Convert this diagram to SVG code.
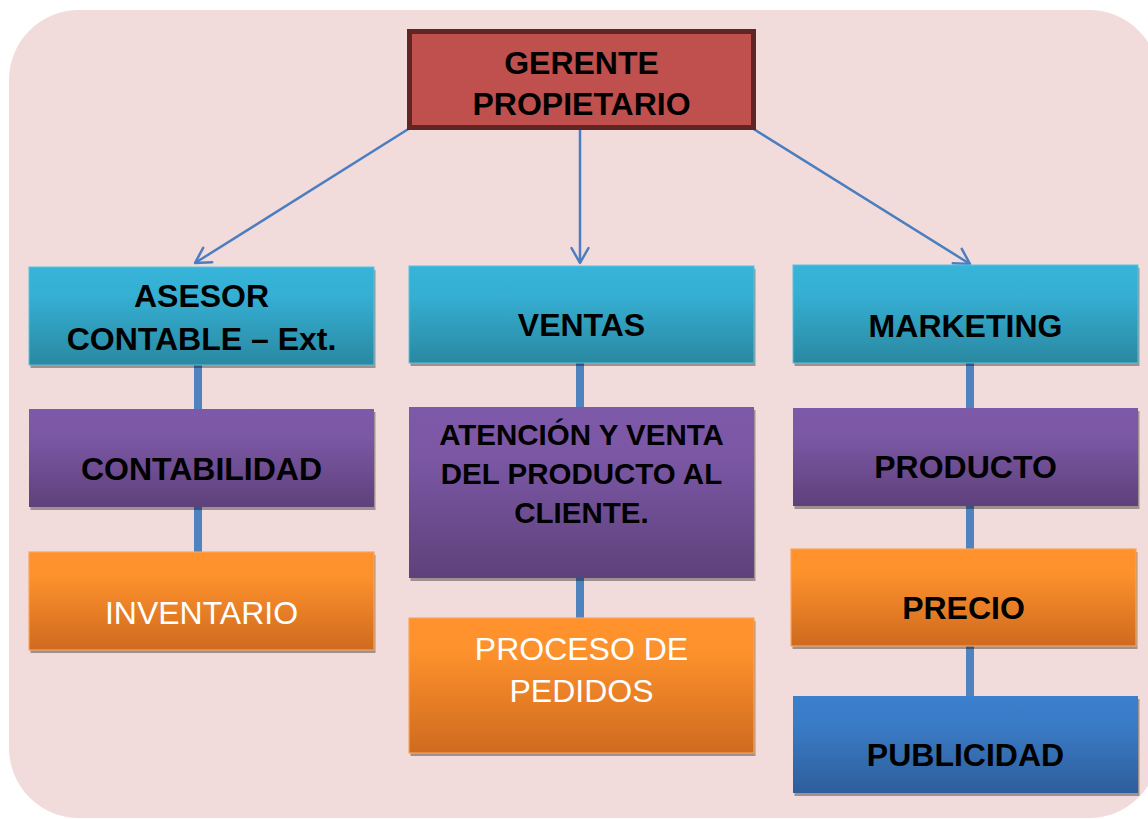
<svg xmlns="http://www.w3.org/2000/svg" width="1148" height="819" viewBox="0 0 1148 819">
<defs>
<linearGradient id="gCyan" x1="0" y1="0" x2="0" y2="1">
<stop offset="0" stop-color="#37b4d9"/><stop offset="0.3" stop-color="#35afd3"/><stop offset="1" stop-color="#2a88a1"/>
</linearGradient>
<linearGradient id="gPurple" x1="0" y1="0" x2="0" y2="1">
<stop offset="0" stop-color="#7e59a9"/><stop offset="0.3" stop-color="#7b57a4"/><stop offset="1" stop-color="#5e417b"/>
</linearGradient>
<linearGradient id="gOrange" x1="0" y1="0" x2="0" y2="1">
<stop offset="0" stop-color="#ff922b"/><stop offset="0.25" stop-color="#fd912c"/><stop offset="1" stop-color="#cf6a1f"/>
</linearGradient>
<linearGradient id="gBlue" x1="0" y1="0" x2="0" y2="1">
<stop offset="0" stop-color="#3c7fcd"/><stop offset="0.3" stop-color="#3a7bc6"/><stop offset="1" stop-color="#2e5e9b"/>
</linearGradient>
<marker id="arr" markerUnits="userSpaceOnUse" viewBox="-18 -11 21 22" refX="0" refY="0" markerWidth="21" markerHeight="22" orient="auto">
<path d="M-15,-8.5 L0,0 L-15,8.5" fill="none" stroke="#4a7ec0" stroke-width="2.5" stroke-linecap="round" stroke-linejoin="round"/>
</marker>
</defs>
<style>
.shadow{fill:#000;fill-opacity:0.34}
.cyan{fill:url(#gCyan);stroke:#5cbfdb;stroke-width:1}
.purple{fill:url(#gPurple)}
.orange{fill:url(#gOrange);stroke:#f8a45e;stroke-width:1.2}
.blue{fill:url(#gBlue)}
.bt{font-family:"Liberation Sans",Arial,sans-serif;font-weight:bold;font-size:32px;fill:#000;text-anchor:middle}
.wt{font-family:"Liberation Sans",Arial,sans-serif;font-size:32px;fill:#fff;text-anchor:middle}
.vline{stroke:#4f83bf;stroke-width:8;fill:none}
.arrow{stroke:#4a7ec0;stroke-width:2.5;fill:none;marker-end:url(#arr)}
</style>
<rect id="background" x="9" y="10" width="1150" height="808" rx="70" ry="70" fill="#f2dcdb"/>
<g id="connectors">
<line class="vline" x1="198" y1="364" x2="198" y2="410"/>
<line class="vline" x1="198" y1="506" x2="198" y2="553"/>
<line class="vline" x1="580" y1="362" x2="580" y2="409"/>
<line class="vline" x1="580" y1="577" x2="580" y2="619"/>
<line class="vline" x1="970" y1="362" x2="970" y2="409"/>
<line class="vline" x1="970" y1="505" x2="970" y2="550"/>
<line class="vline" x1="970" y1="644" x2="970" y2="697"/>
<line class="arrow" x1="410" y1="128" x2="195" y2="263"/>
<line class="arrow" x1="580" y1="130" x2="580" y2="263"/>
<line class="arrow" x1="752" y1="128" x2="970" y2="264"/>
</g>
<g id="gerente">
<rect x="409.5" y="31.5" width="344" height="96" fill="#c0504d" stroke="#632523" stroke-width="5"/>
<text class="bt" x="581.5" y="74">GERENTE</text>
<text class="bt" x="581.5" y="115">PROPIETARIO</text>
</g>
<g id="asesor">
<rect class="shadow" x="30.5" y="270" width="345" height="98"/>
<rect class="cyan" x="29" y="267" width="345" height="98"/>
<text class="bt" x="201.5" y="307">ASESOR</text>
<text class="bt" x="201.5" y="350">CONTABLE – Ext.</text>
</g>
<g id="ventas">
<rect class="shadow" x="410.5" y="269" width="345" height="97"/>
<rect class="cyan" x="409" y="266" width="345" height="97"/>
<text class="bt" x="581.5" y="336">VENTAS</text>
</g>
<g id="marketing">
<rect class="shadow" x="794.5" y="268" width="345" height="98"/>
<rect class="cyan" x="793" y="265" width="345" height="98"/>
<text class="bt" x="965.5" y="337">MARKETING</text>
</g>
<g id="contabilidad">
<rect class="shadow" x="30.5" y="412" width="345" height="98"/>
<rect class="purple" x="29" y="409" width="345" height="98"/>
<text class="bt" x="201.5" y="480">CONTABILIDAD</text>
</g>
<g id="atencion">
<rect class="shadow" x="410.5" y="410" width="345" height="171"/>
<rect class="purple" x="409" y="407" width="345" height="171"/>
<text class="bt" x="581.5" y="445" style="font-size:29.5px">ATENCIÓN Y VENTA</text>
<text class="bt" x="581.5" y="484" style="font-size:29.5px">DEL PRODUCTO AL</text>
<text class="bt" x="581.5" y="523" style="font-size:29.5px">CLIENTE.</text>
</g>
<g id="producto">
<rect class="shadow" x="794.5" y="411" width="345" height="98"/>
<rect class="purple" x="793" y="408" width="345" height="98"/>
<text class="bt" x="965.5" y="478">PRODUCTO</text>
</g>
<g id="inventario">
<rect class="shadow" x="30.5" y="555" width="345" height="98"/>
<rect class="orange" x="29" y="552" width="345" height="98"/>
<text class="wt" x="201.5" y="624">INVENTARIO</text>
</g>
<g id="proceso">
<rect class="shadow" x="410.5" y="621" width="345" height="135"/>
<rect class="orange" x="409" y="618" width="345" height="135"/>
<text class="wt" x="581.5" y="660">PROCESO DE</text>
<text class="wt" x="581.5" y="702">PEDIDOS</text>
</g>
<g id="precio">
<rect class="shadow" x="792.5" y="552" width="345" height="97"/>
<rect class="orange" x="791" y="549" width="345" height="97"/>
<text class="bt" x="963.5" y="619">PRECIO</text>
</g>
<g id="publicidad">
<rect class="shadow" x="794.5" y="699" width="345" height="97"/>
<rect class="blue" x="793" y="696" width="345" height="97"/>
<text class="bt" x="965.5" y="766">PUBLICIDAD</text>
</g>
</svg>
